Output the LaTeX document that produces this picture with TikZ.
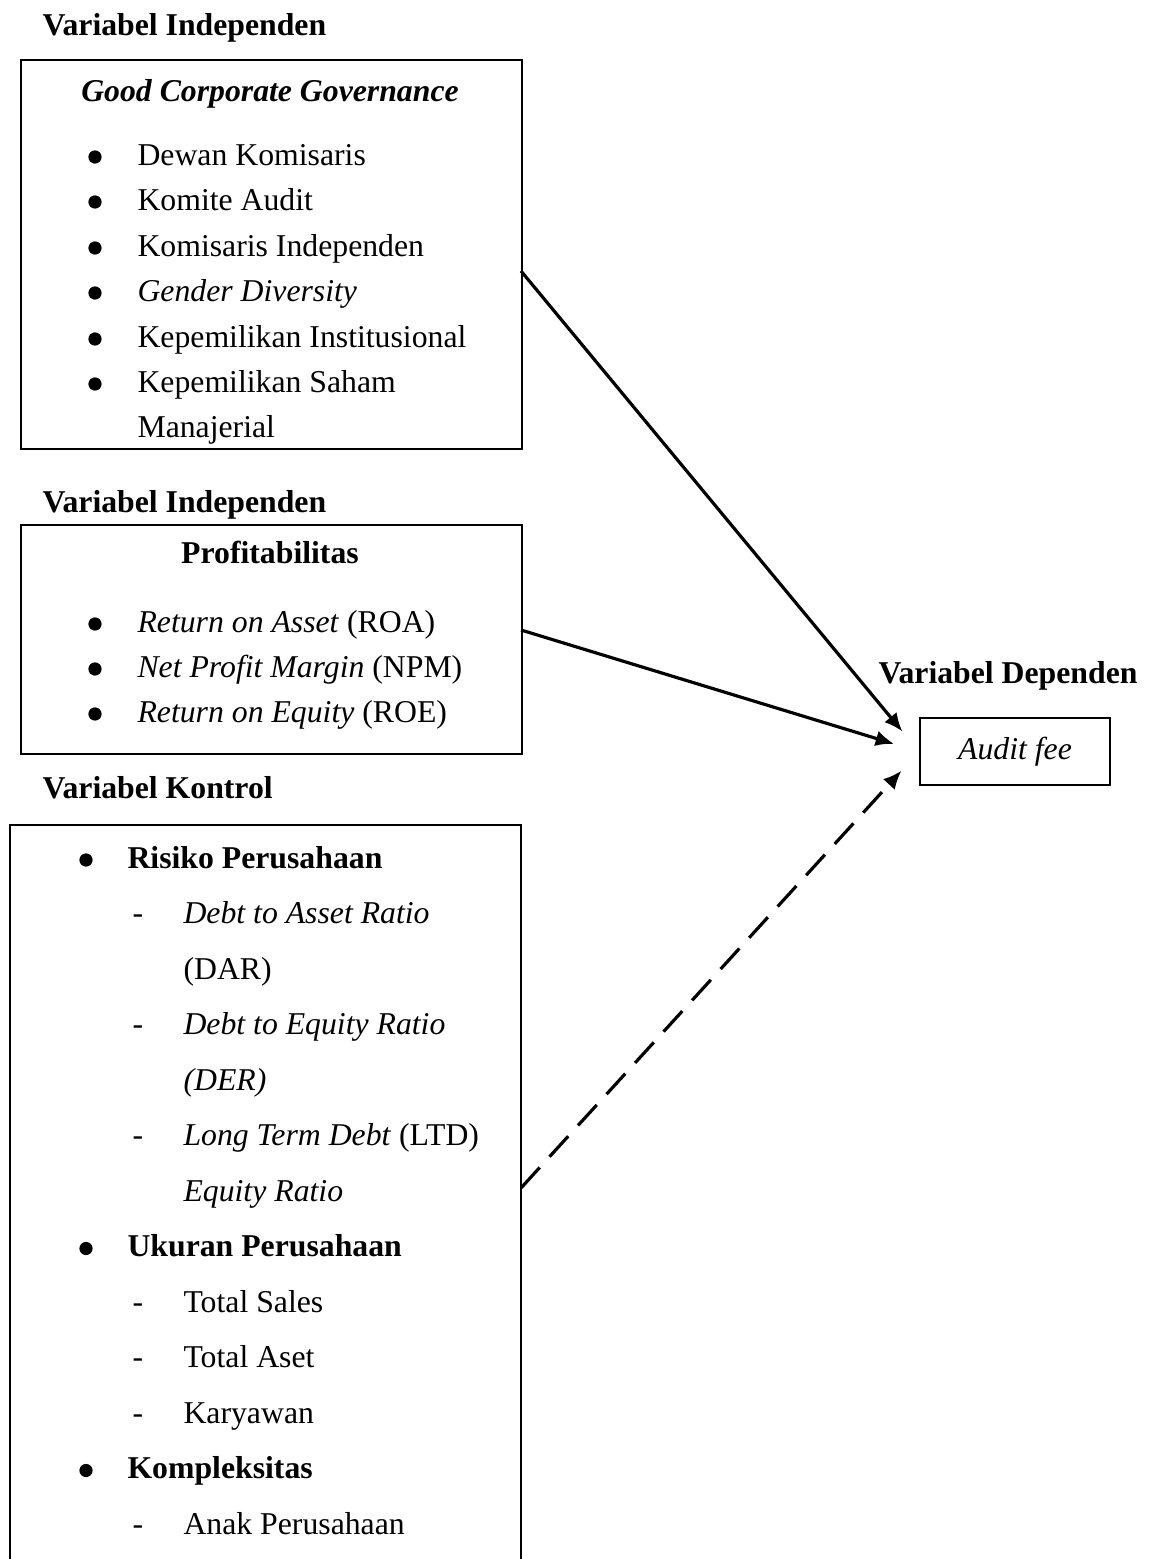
\documentclass[tikz,border=0pt,12pt]{standalone}
\usepackage{fontspec}
\setmainfont{Liberation Serif}
\usetikzlibrary{arrows.meta}
\tikzset{
    box/.style={draw, thick},
    head/.style={font=\bfseries, anchor=base west},
    item/.style={anchor=base west},
    dot/.style={circle, fill, minimum size=5pt},
    hyph/.style={anchor=base},
}

\begin{document}
\begin{tikzpicture}[x=0.378pt, y=-0.378pt, every node/.style={inner sep=0pt}, >={Latex[length=7pt,width=6pt]}]
    \useasboundingbox (0,0) rectangle (1156,1559);

    \node[head] (t1) at (42,35) {Variabel Independen};
    \node[box, anchor=north west, minimum width=189.4pt, minimum height=147pt] (gcg) at (20,59) {};
    \node[font=\bfseries\itshape, anchor=base] (gcgname) at (270,101) {Good Corporate Governance};
    \node[dot] (g1b) at (95,157) {};
    \node[item] (g1) at (137,165) {Dewan Komisaris};
    \node[dot] (g2b) at (95,202) {};
    \node[item] (g2) at (137,210) {Komite Audit};
    \node[dot] (g3b) at (95,248) {};
    \node[item] (g3) at (137,256) {Komisaris Independen};
    \node[dot] (g4b) at (95,293) {};
    \node[item, font=\itshape] (g4) at (137,301) {Gender Diversity};
    \node[dot] (g5b) at (95,339) {};
    \node[item] (g5) at (137,347) {Kepemilikan Institusional};
    \node[dot] (g6b) at (95,384) {};
    \node[item] (g6) at (137,392) {Kepemilikan Saham};
    \node[item] (g7) at (137,437) {Manajerial};
    \coordinate (gcgout) at (521,271);

    \node[head] (t2) at (42,512) {Variabel Independen};
    \node[box, anchor=north west, minimum width=189.4pt, minimum height=86.6pt] (prof) at (20,524) {};
    \node[font=\bfseries, anchor=base] (profname) at (270,563) {Profitabilitas};
    \node[dot] (p1b) at (95,624) {};
    \node[item] (p1) at (137,632) {\textit{Return on Asset} (ROA)};
    \node[dot] (p2b) at (95,669) {};
    \node[item] (p2) at (137,677) {\textit{Net Profit Margin} (NPM)};
    \node[dot] (p3b) at (95,714) {};
    \node[item] (p3) at (137,722) {\textit{Return on Equity} (ROE)};
    \coordinate (profout) at (521,630);

    \node[head] (t3) at (42,798) {Variabel Kontrol};
    \draw[box] (10,1559) |- (521,825) -- (521,1559);
    \node[dot] (k1b) at (86,860) {};
    \node[item, font=\bfseries] (k1) at (127,868) {Risiko Perusahaan};
    \node[hyph] (k2d) at (138,923.5) {-};
    \node[item, font=\itshape] (k2) at (183,923.5) {Debt to Asset Ratio};
    \node[item] (k3) at (183,979) {(DAR)};
    \node[hyph] (k4d) at (138,1034.5) {-};
    \node[item, font=\itshape] (k4) at (183,1034.5) {Debt to Equity Ratio};
    \node[item, font=\itshape] (k5) at (183,1090) {(DER)};
    \node[hyph] (k6d) at (138,1145.5) {-};
    \node[item] (k6) at (183,1145.5) {\textit{Long Term Debt} (LTD)};
    \node[item, font=\itshape] (k7) at (183,1201) {Equity Ratio};
    \node[dot] (k8b) at (86,1248.5) {};
    \node[item, font=\bfseries] (k8) at (127,1256.5) {Ukuran Perusahaan};
    \node[hyph] (k9d) at (138,1312) {-};
    \node[item] (k9) at (183,1312) {Total Sales};
    \node[hyph] (k10d) at (138,1367.5) {-};
    \node[item] (k10) at (183,1367.5) {Total Aset};
    \node[hyph] (k11d) at (138,1423) {-};
    \node[item] (k11) at (183,1423) {Karyawan};
    \node[dot] (k12b) at (86,1470.5) {};
    \node[item, font=\bfseries] (k12) at (127,1478.5) {Kompleksitas};
    \node[hyph] (k13d) at (138,1534) {-};
    \node[item] (k13) at (183,1534) {Anak Perusahaan};
    \coordinate (ctrlout) at (521,1188);

    \node[head] (t4) at (878,683) {Variabel Dependen};
    \node[box, minimum width=71.8pt, minimum height=25.3pt, font=\itshape] (fee) at (1015,751.5) {Audit fee};

    \draw[->, very thick, shorten >=9.8pt] (gcgout) -- (fee.west);
    \draw[->, very thick, shorten >=9.8pt] (profout) -- (fee.west);
    \draw[->, very thick, shorten >=9.8pt, dash pattern=on 10.5pt off 5.5pt] (ctrlout) -- (fee.west);
\end{tikzpicture}
\end{document}
